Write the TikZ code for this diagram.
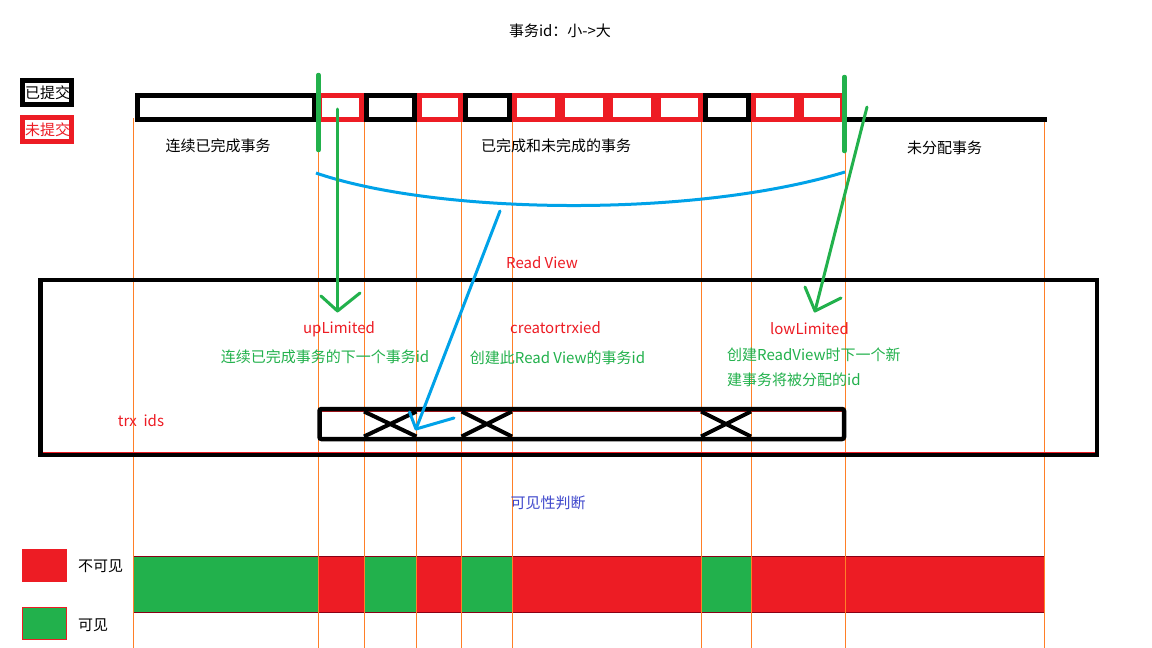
\documentclass[tikz,border=0pt]{standalone}
\usepackage{fontspec}
\setmainfont{Noto Sans CJK SC}
\newcommand\pfs{\fontsize{15}{18}\selectfont}
\definecolor{pgreen}{HTML}{22B14C}
\definecolor{pred}{HTML}{ED1C24}
\definecolor{porange}{HTML}{FF7F27}
\definecolor{pblue}{HTML}{00A2E8}
\definecolor{pindigo}{HTML}{3F48CC}
\definecolor{pdark}{HTML}{880015}
\begin{document}
\begin{tikzpicture}[x=1pt,y=-1pt,
  txt/.style={inner sep=0pt, font=\pfs},
  cbox/.style={line width=5pt},
  lgbox/.style={line width=5pt, minimum width=49pt, minimum height=24pt, inner sep=0pt},
  orline/.style={porange, line width=1pt},
  gbar/.style={pgreen, line width=4.5pt, line cap=round},
  garrow/.style={pgreen, line width=3pt, line cap=round, line join=round},
  barrow/.style={pblue, line width=3pt, line cap=round, line join=round},
  xmark/.style={line width=4pt},
  thinred/.style={pred, line width=1pt}]
\useasboundingbox (0,0) rectangle (1152,648);
\fill[white] (0,0) rectangle (1152,648);

% bottom visibility bar
\fill[pgreen] (133,556) rectangle (318,612);
\fill[pred] (318,556) rectangle (364,612);
\fill[pgreen] (364,556) rectangle (416.5,612);
\fill[pred] (416.5,556) rectangle (461.5,612);
\fill[pgreen] (461.5,556) rectangle (512,612);
\fill[pred] (512,556) rectangle (701,612);
\fill[pgreen] (701,556) rectangle (751,612);
\fill[pred] (751,556) rectangle (1044,612);
\draw[pdark, line width=1pt] (133,556) rectangle (1044,612);

% orange guide lines
\foreach \x in {133.5,318,364,416.5,461.5,512,701,751,845,1044}
  \draw[orline] (\x,118) -- (\x,648);

% title
\node[txt] (title) at (560,31) {事务id：小->大};

% legend top
\node[txt, anchor=west] (lg1t) at (25,93) {已提交};
\node[lgbox, draw=black] (lg1) at (47,92.5) {};
\node[txt, anchor=west, text=pred] (lg2t) at (25,129.5) {未提交};
\node[lgbox, draw=pred] (lg2) at (47,129) {};

% top transaction bar
\foreach \a/\b in {135/317,364/417,463/512,703/751}
  \draw[cbox, black] (\a+2.5,95.5) rectangle (\b-2.5,119.5);
\foreach \a/\b in {317/364,417/463,512/560,560/608,608/656,656/703,751/799,799/845}
  \draw[cbox, pred] (\a+2.5,95.5) rectangle (\b-2.5,119.5);
\draw[black, line width=4.5pt] (845,119.5) -- (1047,119.5);

\coordinate (g1a) at (318.5,75);
\coordinate (g1b) at (318.5,150);
\coordinate (g2a) at (844.5,77);
\coordinate (g2b) at (844.5,151);
\draw[gbar] (g1a) -- (g1b);
\draw[gbar] (g2a) -- (g2b);

\node[txt] (l1) at (218,146) {连续已完成事务};
\node[txt] (l2) at (556,146) {已完成和未完成的事务};
\node[txt] (l3) at (944.5,148) {未分配事务};

% blue curve
\coordinate (cva) at (316,173);
\coordinate (cvb) at (845,172);
\draw[pblue, line width=3pt] (cva) .. controls (435,214) and (690,219) .. (cvb);

% Read View box
\node[txt, text=pred] (rvt) at (542,263) {Read View};
\node[draw=black, line width=4.5pt, minimum width=1056.5pt, minimum height=174.6pt, inner sep=0pt] (rv) at (568.5,367.5) {};
\draw[thinred] (42.5,452.5) -- (1094.5,452.5);

\node[txt, text=pred] (up) at (339,329) {upLimited};
\node[txt, text=pred] (cr) at (555.5,328) {creatortrxied};
\node[txt, text=pred] (low) at (809.5,329) {lowLimited};
\node[txt, text=pgreen] (upd) at (325,357) {连续已完成事务的下一个事务id};
\node[txt, text=pgreen] (crd) at (557.5,358) {创建此Read View的事务id};
\node[txt, text=pgreen, anchor=west] (lowd1) at (727,355) {创建ReadView时下一个新};
\node[txt, text=pgreen, anchor=west] (lowd2) at (727,380) {建事务将被分配的id};
\node[txt, text=pred] (trxt) at (141,421) {trx\ \ ids};

% trx ids box
\draw[thinred] (322,411.5) -- (842,411.5);
\node[draw=black, line width=4.5pt, minimum width=524.5pt, minimum height=30pt, inner sep=0pt, rounded corners=2pt] (trx) at (581.75,424) {};
\foreach \a/\b in {364/416.5,461.5/512,701/751}{
  \draw[xmark] (\a,411.5) -- (\b,436.5);
  \draw[xmark] (\a,436.5) -- (\b,411.5);
}

% green arrows
\coordinate (a1s) at (337.5,109);
\coordinate (a1t) at (337.5,311);
\coordinate (a1l) at (321,296);
\coordinate (a1r) at (360,293);
\draw[garrow] (a1s) -- (a1t);
\draw[garrow] (a1l) -- (a1t) -- (a1r);

\coordinate (a2s) at (867,107);
\coordinate (a2t) at (815,311);
\coordinate (a2l) at (805,287);
\coordinate (a2r) at (841,298);
\draw[garrow] (a2s) -- (a2t);
\draw[garrow] (a2l) -- (a2t) -- (a2r);

% blue arrow
\coordinate (bs) at (500,211);
\coordinate (bt) at (416,429);
\coordinate (bl) at (409.5,412);
\coordinate (br) at (454,418);
\draw[barrow] (bs) -- (bt);
\draw[barrow] (bl) -- (bt) -- (br);

% visibility
\node[txt, text=pindigo] (vis) at (548,503) {可见性判断};
\fill[pred] (22,549) rectangle (67,582);
\node[txt, anchor=west] (inv) at (78,566) {不可见};
\filldraw[fill=pgreen, draw=pred, line width=1pt] (22.5,607.5) rectangle (66.5,639);
\node[txt, anchor=west] (vs) at (78,625) {可见};
\end{tikzpicture}
\end{document}
